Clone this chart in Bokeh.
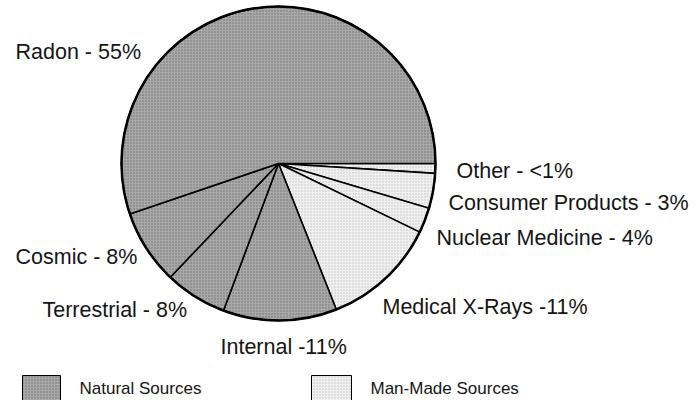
import math
from bokeh.plotting import figure
from bokeh.models import Range1d, ColumnDataSource
from bokeh.core.properties import value
from bokeh.embed import file_html
from bokeh.resources import INLINE

# ---- data (clockwise from 3 o'clock) ----
categories = ["Other", "Consumer Products", "Nuclear Medicine", "Medical X-Rays",
              "Internal", "Terrestrial", "Cosmic", "Radon"]
shares = [1.0, 3.6, 2.6, 11.8, 11.7, 6.4, 7.7, 55.2]
groups = ["Man-Made", "Man-Made", "Man-Made", "Man-Made",
          "Natural", "Natural", "Natural", "Natural"]
labels = ["Other - <1%", "Consumer Products - 3%", "Nuclear Medicine - 4%",
          "Medical X-Rays -11%", "Internal -11%", "Terrestrial - 8%",
          "Cosmic - 8%", "Radon - 55%"]
legend_names = ["Natural Sources", "Man-Made Sources"]

# ---- layout (screen pixels, y down) ----
W, H = 696, 400
def px(X, Y):
    return X, H - Y

label_pos = [(456, 170), (448, 202), (436, 237), (382, 306),
             (220, 346), (42, 309), (15, 256), (15, 51)]
cx, cy = px(278, 163)
R = 157
colors = {"Natural": "#a9a9a9", "Man-Made": "#f0f0f0"}
hatch_col = {"Natural": "#3a3a3a", "Man-Made": "#9a9a9a"}

p = figure(width=W, height=H, output_backend="svg", toolbar_location=None,
           x_range=Range1d(0, W), y_range=Range1d(0, H),
           min_border=0, outline_line_color=None)
p.axis.visible = False
p.grid.visible = False

total = sum(shares)
starts, ends, cum = [], [], 0.0
for s in shares:
    a0 = cum / total * 2 * math.pi
    cum += s
    a1 = cum / total * 2 * math.pi
    starts.append(-a0)
    ends.append(-a1)

src = ColumnDataSource(dict(start=starts, end=ends,
                            color=[colors[g] for g in groups],
                            hcol=[hatch_col[g] for g in groups]))
p.wedge(x=cx, y=cy, radius=R, start_angle="start", end_angle="end",
        direction="clock", fill_color="color", line_color="black",
        line_width=1.6, hatch_pattern="dot", hatch_color="hcol",
        hatch_scale=3, hatch_weight=1, hatch_alpha=0.55, source=src)
p.circle(x=[cx], y=[cy], radius=R, fill_color=None, line_color="black",
         line_width=2.5)

lx = [px(a, b)[0] for a, b in label_pos]
ly = [px(a, b)[1] for a, b in label_pos]
p.text(x=lx, y=ly, text=labels, text_font=value("Liberation Sans"),
       text_font_size="21.5px", text_baseline="middle", text_align="left",
       text_color="#151515")

# legend
sw = [(22, 375, 60, 400), (311, 375, 351, 400)]
for (x0, y0, x1, y1), g, name in zip(sw, ["Natural", "Man-Made"], legend_names):
    a, b = px(x0, y0)
    c, d = px(x1, y1)
    p.quad(left=a, right=c, top=b, bottom=d, fill_color=colors[g],
           line_color="black", line_width=1, hatch_pattern="dot",
           hatch_color=hatch_col[g], hatch_scale=3, hatch_weight=1,
           hatch_alpha=0.55)
    tx, ty = px(x1 + 19, 388)
    p.text(x=[tx], y=[ty], text=[name], text_font=value("Liberation Sans"),
           text_font_size="17px", text_baseline="middle", text_align="left",
           text_color="#151515")

open("out.html", "w").write(file_html(p, INLINE))
